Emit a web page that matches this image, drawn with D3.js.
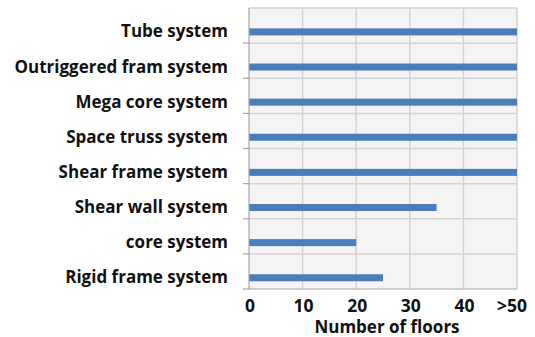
<!DOCTYPE html>
<html>
<head>
<meta charset="utf-8">
<script src="https://cdn.jsdelivr.net/npm/d3@7"></script>
<style>
  html, body { margin: 0; padding: 0; background: #fff; }
  svg text { font-family: "Open Sans", sans-serif; font-weight: 700; fill: #111; }
</style>
</head>
<body>
<svg id="chart" width="535" height="337"></svg>
<script>
// Structural systems and the number of floors each suits (top to bottom)
const systems = [
  "Tube system",
  "Outriggered fram system",
  "Mega core system",
  "Space truss system",
  "Shear frame system",
  "Shear wall system",
  "core system",
  "Rigid frame system"
];
const floors = [50, 50, 50, 50, 50, 35, 20, 25];
const tickValues = [0, 10, 20, 30, 40, 50];
const tickLabels = ["0", "10", "20", "30", "40", ">50"];
const axisTitle = "Number of floors";

const svg = d3.select("#chart");
const plot = { left: 249, right: 517, top: 8, bottom: 289 };

const x = d3.scaleLinear().domain([0, 50]).range([plot.left, plot.right]);
const y = d3.scaleBand().domain(systems).range([plot.top, plot.bottom]);
const barH = 7;
const barCenter = d => y(d) + y.bandwidth() * 0.68;

// plot background
svg.append("rect")
  .attr("x", plot.left).attr("y", plot.top)
  .attr("width", plot.right - plot.left).attr("height", plot.bottom - plot.top)
  .attr("fill", "#f4f4f4");

// vertical gridlines
svg.append("g")
  .selectAll("line")
  .data(tickValues.slice(1))
  .join("line")
  .attr("x1", d => x(d)).attr("x2", d => x(d))
  .attr("y1", plot.top).attr("y2", plot.bottom)
  .attr("stroke", "#d3d3d3").attr("stroke-width", 1.5);

// horizontal gridlines at category boundaries
svg.append("g")
  .selectAll("line")
  .data(systems)
  .join("line")
  .attr("x1", plot.left).attr("x2", plot.right)
  .attr("y1", d => y(d)).attr("y2", d => y(d))
  .attr("stroke", "#d3d3d3").attr("stroke-width", 1.5);

// bars
svg.append("g")
  .selectAll("rect")
  .data(systems)
  .join("rect")
  .attr("x", x(0))
  .attr("y", d => barCenter(d) - barH / 2)
  .attr("width", (d, i) => x(floors[i]) - x(0))
  .attr("height", barH)
  .attr("fill", "#4a7ebb");

// left axis line and outward ticks at band boundaries
const axisColor = "#a6a6a6";
svg.append("line")
  .attr("x1", plot.left).attr("x2", plot.left)
  .attr("y1", plot.top).attr("y2", plot.bottom)
  .attr("stroke", axisColor).attr("stroke-width", 1.2);
svg.append("g")
  .selectAll("line")
  .data(systems.slice(1).map(d => y(d)).concat([plot.bottom]))
  .join("line")
  .attr("x1", plot.left - 6).attr("x2", plot.left)
  .attr("y1", d => d).attr("y2", d => d)
  .attr("stroke", axisColor).attr("stroke-width", 1.2);

// bottom axis line
svg.append("line")
  .attr("x1", plot.left).attr("x2", plot.right)
  .attr("y1", plot.bottom).attr("y2", plot.bottom)
  .attr("stroke", axisColor).attr("stroke-width", 1.2);

// category labels
svg.append("g")
  .selectAll("text")
  .data(systems)
  .join("text")
  .attr("x", 228)
  .attr("y", d => barCenter(d) + 5.5)
  .attr("text-anchor", "end")
  .attr("font-size", 17)
  .text(d => d);

// x tick labels
svg.append("g")
  .selectAll("text")
  .data(tickValues)
  .join("text")
  .attr("x", (d, i) => x(d) + (i === tickValues.length - 1 ? -5 : 1))
  .attr("y", 312)
  .attr("text-anchor", "middle")
  .attr("font-size", 17.5)
  .text((d, i) => tickLabels[i]);

// axis title
svg.append("text")
  .attr("x", 387).attr("y", 333)
  .attr("text-anchor", "middle")
  .attr("font-size", 17)
  .text(axisTitle);
</script>
</body>
</html>
